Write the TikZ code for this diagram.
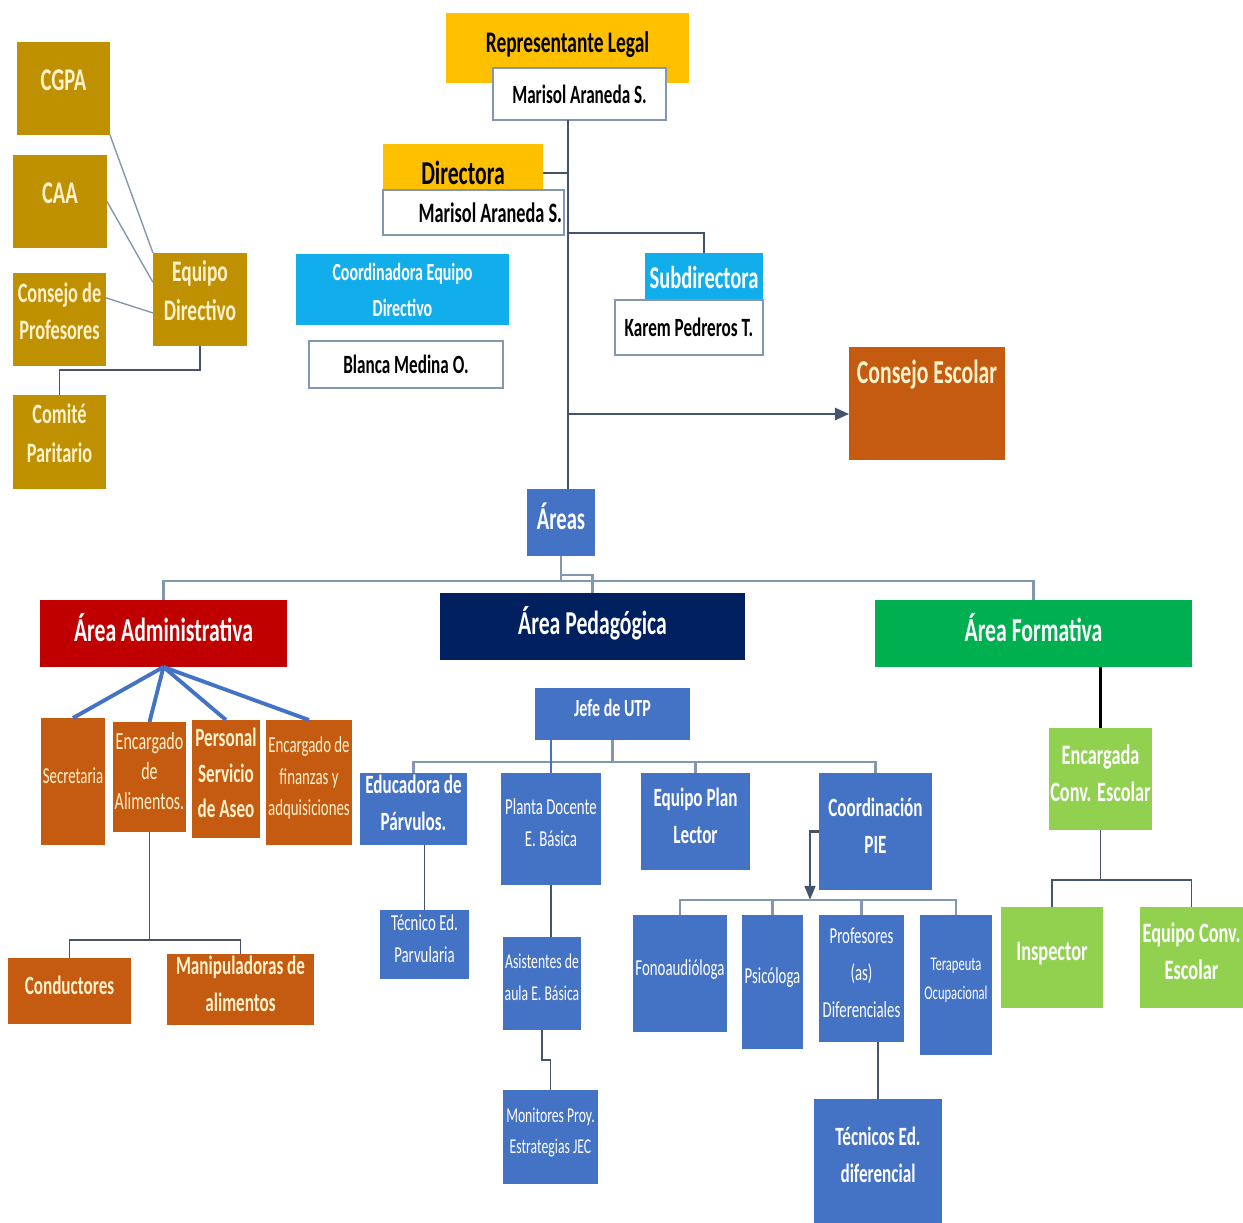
\documentclass[tikz,border=0pt]{standalone}
\usepackage{fontspec}
\setmainfont{Carlito}[FakeStretch=0.65]
\usetikzlibrary{arrows.meta}

\definecolor{oro}{HTML}{BF9000}
\definecolor{ambar}{HTML}{FFC000}
\definecolor{celeste}{HTML}{12AEEC}
\definecolor{ladrillo}{HTML}{C55A11}
\definecolor{azul}{HTML}{4472C4}
\definecolor{rojo}{HTML}{C00000}
\definecolor{marino}{HTML}{002060}
\definecolor{verde}{HTML}{00B050}
\definecolor{lima}{HTML}{92D050}
\definecolor{crema}{HTML}{FFF2CC}
\definecolor{pizarra}{HTML}{44546A}
\definecolor{gris}{HTML}{8497B0}

\begin{document}
\begin{tikzpicture}[x=0.2mm,y=-0.2mm,
    alza/.style={execute at end node={\rule[-#1]{0pt}{1pt}}},
    base/.style 2 args={minimum width=#1*0.2mm,minimum height=#2*0.2mm,
      inner sep=1pt,outer sep=0pt,align=center},
    box/.style 2 args={base={#1}{#2},alza=7pt},
    fz/.style 2 args={font=\fontsize{#1}{#2}\selectfont},
    fb/.style 2 args={font=\fontsize{#1}{#2}\selectfont\bfseries},
    blanco/.style={draw=gris,fill=white,line width=0.8pt},
    ln/.style={draw=pizarra,line width=0.9pt},
    gr/.style={draw=gris,line width=1.4pt},
    az/.style={draw=azul,line width=2.2pt}]
  \useasboundingbox (0,0) rectangle (1243,1223);

  % consejos y equipo directivo
  \node[base={93}{93},alza=10pt,fill=oro,text=crema,fb={18}{22}] (cgpa) at (63.5,88.5) {CGPA};
  \node[base={94}{93},alza=10pt,fill=oro,text=crema,fb={18}{22}] (caa) at (60,201.5) {CAA};
  \node[base={93}{93},alza=10pt,fill=oro,text=crema,fb={16}{21}] (cons) at (59.5,319.5) {Consejo de\\Profesores};
  \node[base={94}{93},alza=10pt,fill=oro,text=crema,fb={17}{22}] (eqd) at (200,299.5) {Equipo\\Directivo};
  \node[base={93}{94},alza=10pt,fill=oro,text=crema,fb={16}{22}] (comite) at (59.5,442) {Comité\\Paritario};

  \draw[gr,line width=0.8pt] (cgpa.south east) -- (eqd.north west);
  \draw[gr,line width=0.8pt] (caa.east) -- (eqd.160);
  \draw[gr,line width=0.8pt] (cons.25) -- (eqd.196);
  \draw[ln] (eqd.south) -- ++(0,24) -| (comite.north);

  % direccion
  \node[box={243}{70},fill=ambar,fb={17}{20}] (rep) at (567.5,48) {Representante Legal};
  \node[base={173}{52},blanco,fb={15}{20}] (rmar) at (579.5,94) {Marisol Araneda S.};
  \node[base={160}{58},fill=ambar,fb={19}{22}] (dir) at (463,173) {Directora};
  \node[base={171}{45},blanco,fb={16}{20}] (dmar) at (473.5,212.5) {\hspace*{1.2em}Marisol Araneda S.};
  \node[base={213}{71},fill=celeste,text=white,fb={14}{20}] (coord) at (402.5,290) {Coordinadora Equipo\\Directivo};
  \node[base={194}{47},blanco,fb={15}{20}] (blanca) at (406,364.5) {Blanca Medina O.};
  \node[base={118}{50},fill=celeste,text=white,fb={18}{22}] (sub) at (704,278) {Subdirectora};
  \node[base={148}{55},blanco,fb={15}{20}] (karem) at (689,327.5) {Karem Pedreros T.};
  \node[box={156}{113},fill=ladrillo,text=crema,fb={19}{22},text depth=36pt] (ce) at (927,403.5) {Consejo Escolar};
  \node[box={68}{67},fill=azul,text=white,fb={18}{22}] (areas) at (561,522.5) {Áreas};

  \coordinate (sp) at (568,0);
  \coordinate (j1) at (568,233);
  \coordinate (j2) at (568,414);
  \draw[ln] (rmar.south -| sp) -- (areas.north -| sp);
  \draw[ln] (dir.east) -- (dir.east -| sp);
  \draw[ln] (j1) -| (sub.north);
  \draw[ln,-{Triangle[length=8pt,width=7pt]}] (j2) -- (j2 -| ce.west);

  % areas
  \node[box={247}{67},fill=rojo,text=white,fb={19}{24}] (adm) at (163.5,633.5) {Área Administrativa};
  \node[box={305}{67},fill=marino,text=white,fb={19}{24}] (ped) at (592.5,626.5) {Área Pedagógica};
  \node[box={317}{67},fill=verde,text=white,fb={19}{24}] (form) at (1033.5,633.5) {Área Formativa};

  \draw[gr] (areas.south) -- ++(0,25) coordinate (ab);
  \draw[gr] (adm.north) |- (ab) -| (form.north);
  \draw[gr] (ab) ++(0,-6) -| (ped.north);

  % area administrativa
  \node[box={62}{127},fill=ladrillo,text=crema,fz={13}{17}] (secr) at (73,781.5) {Secretaria};
  \node[box={69}{110},fill=ladrillo,text=crema,fz={14}{17}] (encal) at (149.5,777) {Encargado\\de\\Alimentos.};
  \node[box={68}{118},fill=ladrillo,text=crema,fb={15}{20}] (pers) at (226,779) {Personal\\Servicio\\de Aseo};
  \node[box={84}{125},fill=ladrillo,text=crema,fz={13}{18}] (fin) at (309,782.5) {Encargado de\\finanzas y\\adquisiciones};
  \node[box={123}{66},fill=ladrillo,text=crema,fb={15}{20}] (cond) at (69.5,991) {Conductores};
  \node[box={147}{69},fill=ladrillo,text=crema,fb={15}{21}] (manip) at (240.5,989.5) {Manipuladoras de\\alimentos};

  \foreach \n in {secr,encal,pers,fin}
    \draw[az] (adm.south) -- (\n.north);
  \draw[ln] (encal.south) -- ++(0,108) coordinate (m1);
  \draw[ln] (cond.north) |- (m1) -| (manip.north);

  % area pedagogica
  \node[box={155}{52},fill=azul,text=white,fb={14}{18}] (jefe) at (612.5,714) {Jefe de UTP};
  \node[box={107}{72},fill=azul,text=white,fb={15}{21}] (educ) at (413.5,809) {Educadora de\\Párvulos.};
  \node[box={89}{69},fill=azul,text=white,fz={13}{18}] (tec) at (424.5,944.5) {Técnico Ed.\\Parvularia};
  \node[box={100}{112},fill=azul,text=white,fz={13}{18}] (planta) at (551,829) {Planta Docente\\E. Básica};
  \node[box={66}{93},fill=azul,text=white,fz={12}{18}] (asist) at (542,983.5) {Asistentes de\\aula E. Básica};
  \node[box={95}{94},fill=azul,text=white,fz={12}{18}] (monit) at (550.5,1137) {Monitores Proy.\\Estrategias JEC};
  \node[box={109}{97},fill=azul,text=white,fb={15}{21}] (plan) at (695.5,821.5) {Equipo Plan\\Lector};
  \node[box={113}{117},fill=azul,text=white,fb={15}{21}] (cpie) at (875.5,831.5) {Coordinación\\PIE};
  \node[box={94}{117},fill=azul,text=white,fz={13}{18}] (fono) at (680,973.5) {Fonoaudióloga};
  \node[box={61}{134},fill=azul,text=white,fz={13}{18}] (psi) at (772.5,982) {Psicóloga};
  \node[box={85}{127},fill=azul,text=white,fz={13}{21}] (prof) at (861.5,978.5) {Profesores\\(as)\\Diferenciales};
  \node[box={72}{140},fill=azul,text=white,fz={11}{17}] (tera) at (956,985) {Terapeuta\\Ocupacional};
  \node[box={128}{124},fill=azul,text=white,fb={15}{21}] (tecd) at (878,1161) {Técnicos Ed.\\diferencial};

  \draw[gr] (jefe.south) -- ++(0,22) coordinate (jb);
  \draw[gr] (educ.north) |- (jb) -| (cpie.north);
  \draw[gr] (planta.north) |- (jb);
  \draw[gr] (plan.north) |- (jb);
  \draw[draw=azul,line width=1pt] (jefe.south -| planta.north) -- (planta.north);
  \draw[ln] (tec.north |- educ.south) -- (tec.north);
  \draw[ln] (planta.south) -- (planta.south |- asist.north);
  \draw[ln] (asist.south) -- ++(0,30) -| (monit.north);
  \draw[ln] (tecd.north |- prof.south) -- (tecd.north);

  \coordinate (pb) at (810,900);
  \draw[ln,line width=1.6pt,-{Triangle[length=8pt,width=6pt]}] (cpie.west) -| (pb);
  \draw[gr] (fono.north) |- (pb) -| (tera.north);
  \draw[gr] (psi.north) |- (pb);
  \draw[gr] (prof.north) |- (pb);

  % area formativa
  \node[box={103}{102},fill=lima,text=white,fb={16}{21}] (enca) at (1100.5,779) {Encargada\\Conv. Escolar};
  \node[box={102}{101},fill=lima,text=white,fb={16}{21}] (insp) at (1052,957.5) {Inspector};
  \node[box={103}{101},fill=lima,text=white,fb={16}{21}] (eqc) at (1191.5,957.5) {Equipo Conv.\\Escolar};

  \draw[draw=black,line width=1.2pt] (enca.north |- form.south) -- (enca.north);
  \draw[ln] (enca.south) -- ++(0,50) coordinate (fb);
  \draw[ln] (insp.north) |- (fb) -| (eqc.north);
\end{tikzpicture}
\end{document}
